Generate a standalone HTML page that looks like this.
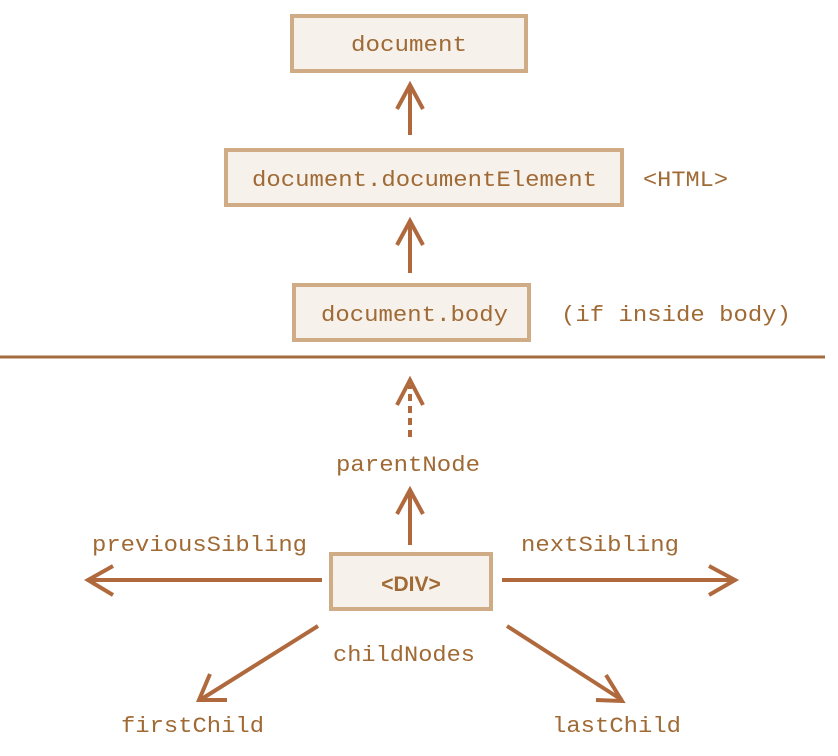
<!DOCTYPE html>
<html><head><meta charset="utf-8"><style>
html,body{margin:0;padding:0;background:#fff;}
svg{display:block}
text{font-family:"Liberation Mono",monospace;font-size:22px;fill:#A06A35;}
</style></head><body>
<svg width="838" height="756" viewBox="0 0 838 756" xmlns="http://www.w3.org/2000/svg">
<defs></defs>
<g fill="#F6F1EA" stroke="#D0AC86" stroke-width="4">
<rect x="292" y="16" width="234" height="55"/>
<rect x="226" y="150" width="396" height="55"/>
<rect x="294" y="285" width="235" height="55"/>
<rect x="331" y="554" width="160" height="55"/>
</g>
<line x1="0" y1="357" x2="825" y2="357" stroke="#A46B3E" stroke-width="3"/>
<g stroke="#B0693D" stroke-width="4" fill="none" stroke-linecap="butt">
<line x1="410" y1="135" x2="410" y2="85"/><polyline points="397,109 410,85 423,109"/>
<line x1="410" y1="273" x2="410" y2="220"/><polyline points="397,245 410,221 423,245"/>
<line x1="410" y1="437" x2="410" y2="385" stroke-dasharray="7,5"/><polyline points="397,405 410,380 423,405"/>
<line x1="410" y1="545" x2="410" y2="490"/><polyline points="397,514 410,490 423,514"/>
<line x1="322" y1="580" x2="90" y2="580"/><polyline points="113,566 88,580 113,595"/>
<line x1="502" y1="580" x2="733" y2="580"/><polyline points="709,566 735,580 709,595"/>
<line x1="318" y1="626" x2="200" y2="700"/><polyline points="210,674 199,700 227,700"/>
<line x1="507" y1="626" x2="622" y2="700"/><polyline points="606,675 622,701 596,700"/>
</g>
<text x="409" y="51" text-anchor="middle" textLength="116" lengthAdjust="spacingAndGlyphs">document</text>
<text x="252" y="186" textLength="345" lengthAdjust="spacingAndGlyphs">document.documentElement</text>
<text x="643" y="186" textLength="85" lengthAdjust="spacingAndGlyphs">&lt;HTML&gt;</text>
<text x="321" y="321" textLength="187" lengthAdjust="spacingAndGlyphs">document.body</text>
<text x="561" y="321" textLength="230" lengthAdjust="spacingAndGlyphs">(if inside body)</text>
<text x="336" y="471" textLength="144" lengthAdjust="spacingAndGlyphs">parentNode</text>
<text x="92" y="551" textLength="215" lengthAdjust="spacingAndGlyphs">previousSibling</text>
<text x="521" y="551" textLength="158" lengthAdjust="spacingAndGlyphs">nextSibling</text>
<text x="411" y="591" text-anchor="middle" style="font-family:'Liberation Sans',sans-serif;font-weight:bold;font-size:21px">&lt;DIV&gt;</text>
<text x="333" y="661" textLength="142" lengthAdjust="spacingAndGlyphs">childNodes</text>
<text x="121" y="732" textLength="143" lengthAdjust="spacingAndGlyphs">firstChild</text>
<text x="552" y="732" textLength="129" lengthAdjust="spacingAndGlyphs">lastChild</text>
</svg>
</body></html>
